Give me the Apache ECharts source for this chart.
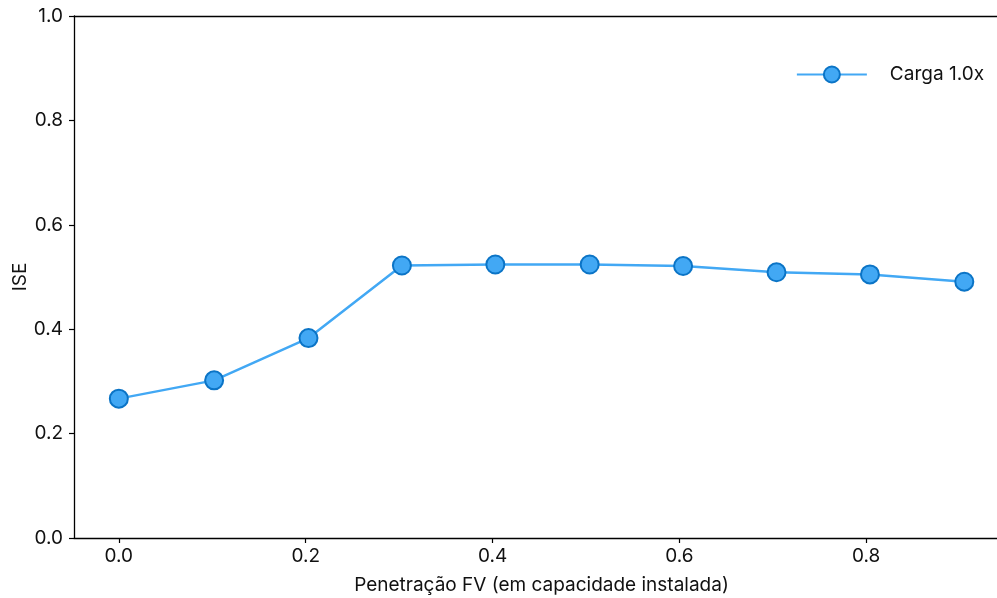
<!DOCTYPE html>
<html>
<head>
<meta charset="utf-8">
<script src="https://cdn.jsdelivr.net/npm/echarts@6/dist/echarts.min.js"></script>
<style>html,body{margin:0;padding:0;background:#fff;}#c{width:997px;height:598px;}</style>
</head>
<body>
<div id="c"></div>
<script>
const penetration = [0, 0.102, 0.203, 0.303, 0.403, 0.504, 0.604, 0.704, 0.804, 0.905];
const iseValues = [0.267, 0.302, 0.383, 0.522, 0.524, 0.524, 0.521, 0.509, 0.505, 0.491];
const xTicks = [0, 0.2, 0.4, 0.6, 0.8];
const seriesName = 'Carga 1.0x';
const xTitle = 'Penetração FV (em capacidade instalada)';
const yTitle = 'ISE';

const font = 'Inter, "Noto Sans", sans-serif';
const fs = 19;
const chart = echarts.init(document.getElementById('c'), null, {renderer: 'canvas'});
chart.setOption({
  animation: false,
  backgroundColor: '#fff',
  textStyle: {fontFamily: font},
  grid: {left: 74, right: 0, top: 16, bottom: 60, containLabel: false, outerBoundsMode: 'none'},
  legend: {
    right: 8, top: 60,
    itemWidth: 70, itemHeight: 20,
    textStyle: {fontFamily: font, fontSize: fs, color: '#111', padding: [0, 0, 0, 18]},
    data: [seriesName]
  },
  xAxis: [{
    type: 'value', min: -0.048, max: 0.94,
    name: xTitle, nameLocation: 'middle', nameGap: 38, nameMoveOverlap: false,
    nameTextStyle: {fontFamily: font, fontSize: fs, color: '#111', padding: [0, 0, 0, 12]},
    axisLine: {show: true, onZero: false, lineStyle: {color: '#000', width: 1.3}},
    axisTick: {show: true, length: 5, lineStyle: {color: '#000', width: 1.2}, customValues: xTicks},
    axisLabel: {fontFamily: font, fontSize: fs, color: '#111', margin: 9, customValues: xTicks,
      formatter: v => v.toFixed(1)},
    splitLine: {show: false}
  }, {
    type: 'value', position: 'top', min: -0.048, max: 0.94,
    axisLine: {show: true, onZero: false, lineStyle: {color: '#000', width: 1.3}},
    axisTick: {show: false}, axisLabel: {show: false}, splitLine: {show: false}
  }],
  yAxis: {
    type: 'value', min: 0, max: 1, interval: 0.2,
    name: yTitle, nameLocation: 'middle', nameGap: 44, nameRotate: 90, nameMoveOverlap: false,
    nameTextStyle: {fontFamily: font, fontSize: fs, color: '#111'},
    axisLine: {show: true, onZero: false, lineStyle: {color: '#000', width: 1.3}},
    axisTick: {show: true, length: 5, lineStyle: {color: '#000', width: 1.2}},
    axisLabel: {fontFamily: font, fontSize: fs, color: '#111', margin: 11,
      formatter: v => v.toFixed(1)},
    splitLine: {show: false}
  },
  series: [{
    name: seriesName,
    type: 'line',
    data: penetration.map((x, i) => [x, iseValues[i]]),
    symbol: 'circle', symbolSize: 18,
    lineStyle: {color: '#42A8F4', width: 2.5},
    itemStyle: {color: '#42A8F4', borderColor: '#0B74C6', borderWidth: 2},
    emphasis: {disabled: true}
  }]
});
</script>
</body>
</html>
